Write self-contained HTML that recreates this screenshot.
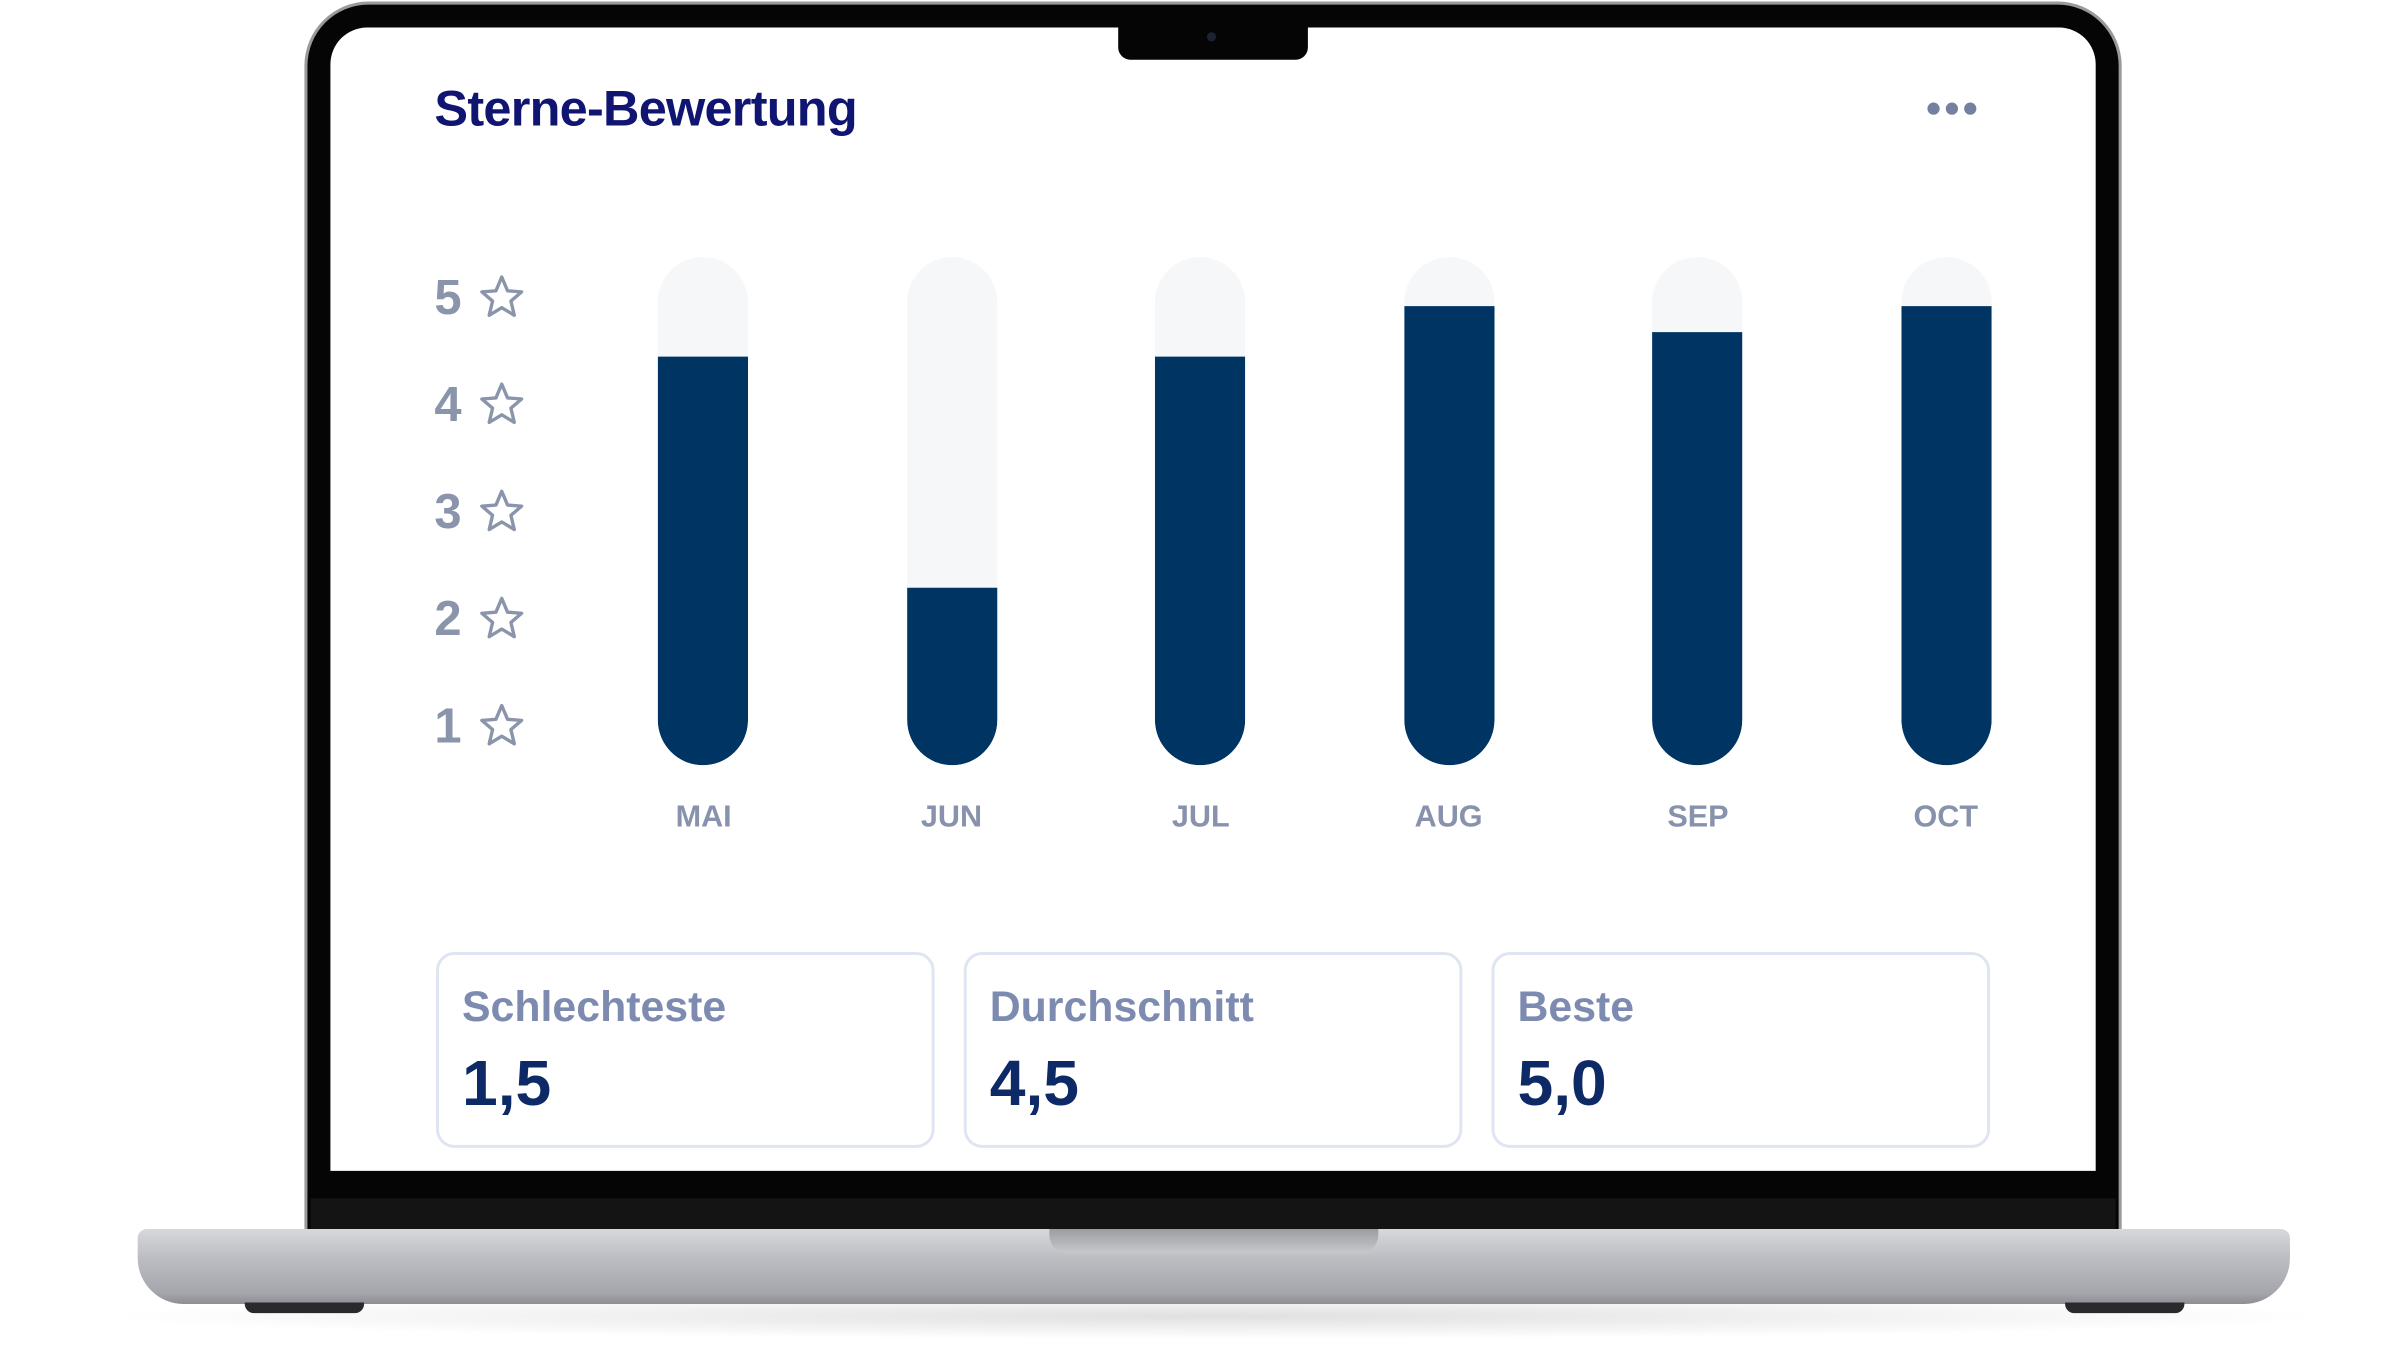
<!DOCTYPE html>
<html><head><meta charset="utf-8">
<style>
html,body{margin:0;padding:0;background:#fff;width:2395px;height:1355px;overflow:hidden}
#w{position:absolute;left:0;top:0;width:1550px;height:890px;transform-origin:0 0;transform:scale(1.5297,1.5305);font-family:"Liberation Sans",sans-serif}
.a{position:absolute}
.track{position:absolute;top:168px;width:59px;height:332px;border-radius:30px;background:#f6f7f9;overflow:hidden}
.fill{position:absolute;left:0;right:0;bottom:0;background:#003463;border-radius:0 0 30px 30px}
.mon{position:absolute;top:523px;width:100px;text-align:center;font-size:20px;font-weight:bold;color:#8892ac}
.yl{position:absolute;left:284px;font-size:32px;font-weight:bold;color:#8a94ab;line-height:32px}
.card{position:absolute;top:622px;width:322px;height:124px;border:2px solid #dfe5f1;border-radius:12px}
.cl{position:absolute;left:15px;top:18px;font-size:28px;font-weight:bold;color:#7d8bb0}
.cv{position:absolute;left:15px;top:60px;font-size:42px;font-weight:bold;color:#0d2a66}
</style></head><body>
<div id="w">
<div class="a" style="left:60px;top:845px;width:1470px;height:30px;background:radial-gradient(ellipse at center,rgba(0,0,0,0.12),rgba(0,0,0,0) 70%)"></div>
<div class="a" style="left:199px;top:1px;width:1188px;height:806px;border-radius:42px 42px 0 0;background:#9a9a9c"></div>
<div class="a" style="left:201px;top:3px;width:1184px;height:804px;border-radius:40px 40px 0 0;background:#050505"></div>
<div class="a" style="left:203px;top:783px;width:1180px;height:22px;background:#141414"></div>
<div class="a" style="left:216px;top:18px;width:1154px;height:747px;border-radius:24px 24px 0 0;background:#fff"></div>
<div class="a" style="left:731px;top:16px;width:124px;height:23px;background:#050505;border-radius:0 0 8px 8px"></div>
<div class="a" style="left:789px;top:21px;width:6px;height:6px;border-radius:50%;background:#1c2230"></div>
<div class="a" style="left:90px;top:803px;width:1407px;height:49px;border-radius:6px 6px 30px 30px;background:linear-gradient(#d7d8dc 0%,#bcbdc2 40%,#a5a6ab 85%,#8e8f94 100%)"></div>
<div class="a" style="left:686px;top:803px;width:215px;height:16px;border-radius:0 0 12px 12px;background:linear-gradient(#9c9da2,#c8c9cd)"></div>
<div class="a" style="left:160px;top:851px;width:78px;height:7px;border-radius:0 0 6px 6px;background:#2a2a2c"></div>
<div class="a" style="left:1350px;top:851px;width:78px;height:7px;border-radius:0 0 6px 6px;background:#2a2a2c"></div>

<div class="a" style="left:284px;top:52px;font-size:33px;font-weight:bold;color:#0f1570;letter-spacing:-0.5px">Sterne-Bewertung</div>
<div class="a" style="left:1260px;top:67px;width:8px;height:8px;border-radius:50%;background:#7580a0"></div>
<div class="a" style="left:1272px;top:67px;width:8px;height:8px;border-radius:50%;background:#7580a0"></div>
<div class="a" style="left:1284px;top:67px;width:8px;height:8px;border-radius:50%;background:#7580a0"></div>

<div class="yl" style="top:178px">5</div>
<div class="yl" style="top:248px">4</div>
<div class="yl" style="top:318px">3</div>
<div class="yl" style="top:388px">2</div>
<div class="yl" style="top:458px">1</div>
<svg class="a" style="left:0;top:0" width="400" height="520">
<g fill="none" stroke="#8a94ab" stroke-width="2.2" stroke-linejoin="round">
<path id="s" d="M328,181 L331.8,190 L341,190.7 L334,196.7 L336.2,206 L328,201 L319.8,206 L322,196.7 L315,190.7 L324.2,190 Z"/>
<use href="#s" y="70"/><use href="#s" y="140"/><use href="#s" y="210"/><use href="#s" y="280"/>
</g></svg>

<div class="track" style="left:430px"><div class="fill" style="top:65px"></div></div>
<div class="track" style="left:593px"><div class="fill" style="top:216px"></div></div>
<div class="track" style="left:755px"><div class="fill" style="top:65px"></div></div>
<div class="track" style="left:918px"><div class="fill" style="top:32px"></div></div>
<div class="track" style="left:1080px"><div class="fill" style="top:49px"></div></div>
<div class="track" style="left:1243px"><div class="fill" style="top:32px"></div></div>

<div class="mon" style="left:410px">MAI</div>
<div class="mon" style="left:572px">JUN</div>
<div class="mon" style="left:735px">JUL</div>
<div class="mon" style="left:897px">AUG</div>
<div class="mon" style="left:1060px">SEP</div>
<div class="mon" style="left:1222px">OCT</div>

<div class="card" style="left:285px"><div class="cl">Schlechteste</div><div class="cv">1,5</div></div>
<div class="card" style="left:630px"><div class="cl">Durchschnitt</div><div class="cv">4,5</div></div>
<div class="card" style="left:975px"><div class="cl">Beste</div><div class="cv">5,0</div></div>
</div>
</body></html>
